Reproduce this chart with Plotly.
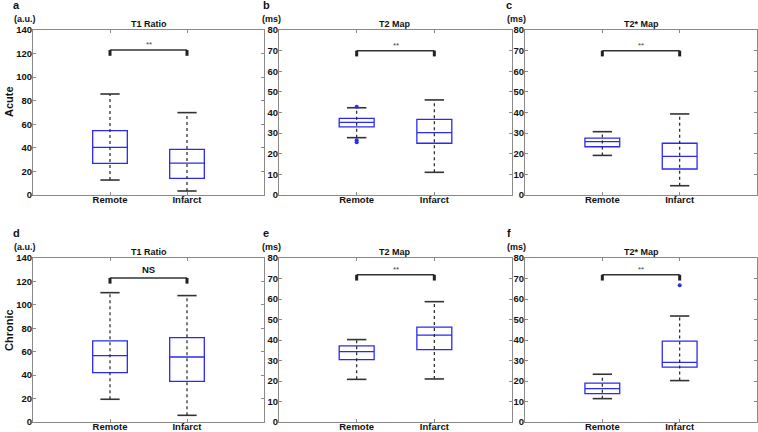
import plotly.graph_objects as go

W, H = 758, 432

# ---- data ----
categories = ["Remote", "Infarct"]
panel_letters = ["a", "b", "c", "d", "e", "f"]
panel_titles = ["T1 Ratio", "T2 Map", "T2* Map", "T1 Ratio", "T2 Map", "T2* Map"]
panel_units = ["(a.u.)", "(ms)", "(ms)", "(a.u.)", "(ms)", "(ms)"]
row_labels = ["Acute", "Chronic"]
y_max = [140, 80, 80, 140, 80, 80]
y_step = [20, 10, 10, 20, 10, 10]

remote_lower = [12.7, 27.8, 19.2, 19.4, 20.8, 11.4]
remote_q1 = [26.9, 33.0, 23.4, 42.1, 30.4, 13.8]
remote_median = [40.4, 35.2, 25.9, 56.6, 34.3, 16.3]
remote_q3 = [54.6, 37.2, 27.6, 69.2, 37.1, 19.0]
remote_upper = [85.7, 42.3, 30.7, 110.4, 40.2, 23.3]
remote_outliers = [[], [42.8, 26.6, 25.6], [], [], [], []]

infarct_lower = [3.4, 11.0, 4.5, 5.7, 21.0, 20.2]
infarct_q1 = [14.1, 25.1, 12.6, 34.7, 35.3, 26.8]
infarct_median = [27.1, 30.2, 18.7, 55.5, 42.4, 29.1]
infarct_q3 = [38.7, 36.7, 25.1, 72.0, 46.3, 39.5]
infarct_upper = [69.9, 46.1, 39.3, 107.9, 58.7, 51.7]
infarct_outliers = [[], [], [], [], [], [66.7]]

significance = ["**", "**", "**", "NS", "**", "**"]
bracket_level = [123, 70, 70, 123, 71.8, 71.8]

# ---- styling ----
FONT = "Liberation Sans, Arial, sans-serif"
BLUE = "#2b2bf0"
FRAME = "#8a8a8a"
BOX_W = 0.45
CAP_HALF = 0.125

# plot areas in pixels: (left, right) per column, (top, bottom) per row
col_px = [(33, 264), (279, 512), (525, 757)]
row_px = [(30, 195), (258, 422)]


def px_x(x):
    return x / W


def px_y(y):
    return 1 - y / H


stats = [
    (remote_lower, remote_q1, remote_median, remote_q3, remote_upper, remote_outliers),
    (infarct_lower, infarct_q1, infarct_median, infarct_q3, infarct_upper, infarct_outliers),
]

fig = go.Figure()
layout = {}
annotations = []

for i in range(6):
    row, col = divmod(i, 3)
    sfx = "" if i == 0 else str(i + 1)
    xa, ya = "x" + sfx, "y" + sfx

    for g, (lo, q1, med, q3, up, outl) in enumerate(stats):
        xpos = g + 1
        # box body
        fig.add_trace(
            go.Box(
                x=[xpos],
                q1=[q1[i]],
                median=[med[i]],
                q3=[q3[i]],
                lowerfence=[q1[i]],
                upperfence=[q3[i]],
                orientation="v",
                width=BOX_W,
                fillcolor="rgba(0,0,0,0)",
                line=dict(color=BLUE, width=1.3),
                boxpoints=False,
                hoverinfo="skip",
                xaxis=xa,
                yaxis=ya,
            )
        )
        # dotted whisker through the box
        fig.add_trace(
            go.Scatter(
                x=[xpos, xpos],
                y=[lo[i], up[i]],
                mode="lines",
                line=dict(color="#222222", width=1.2, dash="dot"),
                hoverinfo="skip",
                xaxis=xa,
                yaxis=ya,
            )
        )
        # whisker caps
        for v in (lo[i], up[i]):
            fig.add_trace(
                go.Scatter(
                    x=[xpos - CAP_HALF, xpos + CAP_HALF],
                    y=[v, v],
                    mode="lines",
                    line=dict(color="#333333", width=1.6),
                    hoverinfo="skip",
                    xaxis=xa,
                    yaxis=ya,
                )
            )
        # outliers
        if outl[i]:
            fig.add_trace(
                go.Scatter(
                    x=[xpos] * len(outl[i]),
                    y=outl[i],
                    mode="markers",
                    marker=dict(color=BLUE, size=4),
                    hoverinfo="skip",
                    xaxis=xa,
                    yaxis=ya,
                )
            )

    # significance bracket
    lvl = bracket_level[i]
    tick = 0.035 * y_max[i]
    fig.add_trace(
        go.Scatter(
            x=[1, 2],
            y=[lvl, lvl],
            mode="lines",
            line=dict(color="#333333", width=1.5),
            hoverinfo="skip",
            xaxis=xa,
            yaxis=ya,
        )
    )
    for xpos in (1, 2):
        fig.add_trace(
            go.Scatter(
                x=[xpos, xpos],
                y=[lvl - tick, lvl],
                mode="lines",
                line=dict(color="#222222", width=3),
                hoverinfo="skip",
                xaxis=xa,
                yaxis=ya,
            )
        )
    sig = significance[i]
    annotations.append(
        dict(
            x=1.5,
            y=lvl,
            xref=xa,
            yref=ya,
            text=sig,
            showarrow=False,
            yanchor="bottom",
            yshift=1 if sig == "NS" else -1,
            font=dict(
                family=FONT,
                size=9.5 if sig == "NS" else 8,
                color="#111111" if sig == "NS" else "#444444",
                weight="bold" if sig == "NS" else "normal",
            ),
        )
    )

    left, right = col_px[col]
    top, bottom = row_px[row]
    axis_common = dict(
        showline=True,
        linecolor=FRAME,
        linewidth=1,
        mirror="ticks",
        ticks="inside",
        ticklen=3,
        tickcolor=FRAME,
        showgrid=False,
        zeroline=False,
        automargin=False,
        tickfont=dict(family=FONT, size=9.5, color="#111111", weight="bold"),
    )
    layout["xaxis" + sfx] = dict(
        axis_common,
        domain=[px_x(left), px_x(right)],
        range=[0, 3],
        tickvals=[1, 2],
        ticktext=categories,
        ticklabelstandoff=-4,
        anchor=ya,
    )
    layout["yaxis" + sfx] = dict(
        axis_common,
        domain=[px_y(bottom), px_y(top)],
        range=[0, y_max[i]],
        dtick=y_step[i],
        ticklabelstandoff=-2,
        anchor=xa,
    )

    # panel letter, unit and title
    letter_x = [16, 266, 509][col]
    unit_x = [25, 271, 516][col]
    annotations.append(
        dict(
            x=px_x(letter_x), y=px_y(top - 25), xref="paper", yref="paper",
            text=panel_letters[i], showarrow=False, xanchor="center", yanchor="middle",
            font=dict(family=FONT, size=11, color="#111111", weight="bold"),
        )
    )
    annotations.append(
        dict(
            x=px_x(unit_x), y=px_y(top - 11), xref="paper", yref="paper",
            text=panel_units[i], showarrow=False, xanchor="center", yanchor="middle",
            font=dict(family=FONT, size=9, color="#111111", weight="bold"),
        )
    )
    annotations.append(
        dict(
            x=px_x((left + right) / 2), y=px_y(top - 6), xref="paper", yref="paper",
            text=panel_titles[i], showarrow=False, xanchor="center", yanchor="middle",
            font=dict(family=FONT, size=9, color="#111111", weight="bold"),
        )
    )

# row labels
for r, label in enumerate(row_labels):
    top, bottom = row_px[r]
    annotations.append(
        dict(
            x=px_x(9), y=px_y(top + 72), xref="paper", yref="paper",
            text=label, showarrow=False, textangle=-90,
            xanchor="center", yanchor="middle",
            font=dict(family=FONT, size=11, color="#111111", weight="bold"),
        )
    )

fig.update_layout(
    **layout,
    annotations=annotations,
    width=W,
    height=H,
    margin=dict(l=0, r=0, t=0, b=0),
    showlegend=False,
    plot_bgcolor="white",
    paper_bgcolor="white",
)

# drop the browser's default body margin so the figure sits at the page corner
fig.write_html(
    "out.html",
    config={"displayModeBar": False},
    post_script="document.body.style.margin = '0';",
)
